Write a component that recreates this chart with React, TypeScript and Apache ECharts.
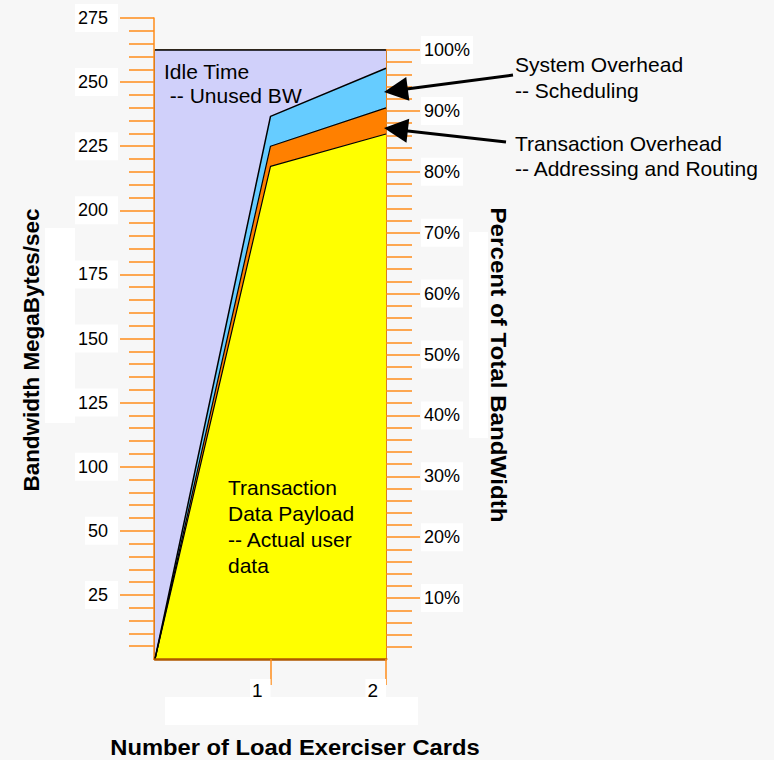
import React, { useEffect, useRef } from 'react';
import * as echarts from 'echarts';

// ---- data (percent of total bandwidth) ----
const categories = ['0', '1', '2'];
const payload = [0, 80.9, 86.2];
const transactionOverhead = [0, 3.3, 4.3];
const systemOverhead = [0, 4.9, 6.5];
const idleTime = [100, 10.9, 3.0];
// left axis tick labels (position 0..10; the original skips 75)
const leftTickLabels = ['', '25', '50', '100', '125', '150', '175', '200', '225', '250', '275'];
const rightTickValues = [10, 20, 30, 40, 50, 60, 70, 80, 90, 100];

const FONT = 'Liberation Sans, Arial, Helvetica, sans-serif';
const ORANGE = '#ff8c1a';
const BG = '#f7f7f7';

export default function App() {
  const ref = useRef<HTMLDivElement>(null);
  useEffect(() => {
    const chart = echarts.init(ref.current!, null, { renderer: 'svg' });
    const arrowHead = (tip: number[], tail: number[], len: number, half: number) => {
      const dx = tail[0] - tip[0];
      const dy = tail[1] - tip[1];
      const d = Math.sqrt(dx * dx + dy * dy);
      const ux = dx / d, uy = dy / d;
      const bx = tip[0] + ux * len, by = tip[1] + uy * len;
      return [tip, [bx - uy * half, by + ux * half], [bx + uy * half, by - ux * half]];
    };
    const sysTip = [384, 92], sysTail = [513, 75];
    const trTip = [384, 128], trTail = [506, 142];
    const option: any = {
      animation: false,
      backgroundColor: BG,
      textStyle: { fontFamily: FONT },
      grid: [
        { left: 155, right: 388, top: 50, bottom: 101, show: true, backgroundColor: '#d0d0fa', borderColor: '#3a2200', borderWidth: 1.5, containLabel: false },
        { left: 154, width: 1, top: 18, bottom: 101, containLabel: false },
      ],
      xAxis: [
        {
          gridIndex: 0,
          type: 'category',
          boundaryGap: false,
          data: categories,
          z: 5,
          axisLine: { show: true, lineStyle: { color: '#b05800', width: 2.5 } },
          axisTick: { show: true, length: 26, interval: (i: number) => i > 0, lineStyle: { color: ORANGE, width: 1.5 } },
          axisLabel: {
            interval: (i: number) => i > 0,
            margin: 20,
            align: 'right',
            fontSize: 19,
            color: '#000',
            fontFamily: FONT,
            backgroundColor: '#fff',
            padding: [2, 8, 1, 2],
          },
          splitLine: { show: false },
        },
        { gridIndex: 1, type: 'value', show: false, min: 0, max: 1 },
      ],
      yAxis: [
        {
          gridIndex: 0,
          type: 'value',
          position: 'right',
          min: 0,
          max: 100,
          interval: 10,
          axisLine: { show: true, lineStyle: { color: ORANGE, width: 1.5 } },
          axisTick: { show: true, length: 34, lineStyle: { color: ORANGE, width: 1.5 } },
          minorTick: { show: true, splitNumber: 5, length: 26, lineStyle: { color: ORANGE, width: 1.5 } },
          splitLine: { show: false },
          axisLabel: {
            margin: 35,
            fontSize: 18,
            color: '#000',
            fontFamily: FONT,
            backgroundColor: '#fff',
            padding: [5, 3, 5, 3],
            formatter: (v: number) => (rightTickValues.indexOf(v) >= 0 ? v + '%' : ''),
          },
        },
        {
          gridIndex: 1,
          type: 'value',
          position: 'left',
          min: 0,
          max: 10,
          interval: 1,
          axisLine: { show: true, lineStyle: { color: ORANGE, width: 1.5 } },
          axisTick: { show: true, length: 34, lineStyle: { color: ORANGE, width: 1.5 } },
          minorTick: { show: true, splitNumber: 5, length: 25, lineStyle: { color: ORANGE, width: 1.5 } },
          splitLine: { show: false },
          axisLabel: {
            margin: 36,
            fontSize: 18,
            color: '#000',
            fontFamily: FONT,
            backgroundColor: '#fff',
            padding: [5, 10, 5, 3],
            formatter: (v: number) => leftTickLabels[v] || '',
          },
        },
      ],
      series: [
        { name: 'Transaction Data Payload', type: 'line', stack: 'bw', data: payload, symbol: 'none', lineStyle: { color: '#000', width: 1.2 }, areaStyle: { color: '#ffff00', opacity: 1 } },
        { name: 'Transaction Overhead', type: 'line', stack: 'bw', data: transactionOverhead, symbol: 'none', lineStyle: { color: '#000', width: 1.2 }, areaStyle: { color: '#ff8000', opacity: 1 } },
        { name: 'System Overhead', type: 'line', stack: 'bw', data: systemOverhead, symbol: 'none', lineStyle: { color: '#000', width: 1.5 }, areaStyle: { color: '#66ccff', opacity: 1 } },
        { name: 'Idle Time', type: 'line', stack: 'bw', data: idleTime, symbol: 'none', lineStyle: { color: '#000', width: 1.5 }, areaStyle: { color: '#d0d0fa', opacity: 1 } },
      ],
      graphic: [
        // hide the zero ticks (and their empty label boxes) of both vertical axes
        { type: 'rect', shape: { x: 95, y: 653, width: 58, height: 13 }, style: { fill: BG }, z: 100 },
        { type: 'rect', shape: { x: 387.5, y: 653, width: 50, height: 13 }, style: { fill: BG }, z: 100 },
        { type: 'rect', shape: { x: 165, y: 697, width: 253, height: 28 }, style: { fill: '#fff' }, z: 1 },
        { type: 'rect', shape: { x: 45, y: 228, width: 30, height: 195 }, style: { fill: '#fff' }, z: 1 },
        { type: 'rect', shape: { x: 469, y: 232, width: 19, height: 206 }, style: { fill: '#fff' }, z: 1 },
        { type: 'text', x: 295, y: 747, scaleX: 1.08, z: 10, style: { text: 'Number of Load Exerciser Cards', fontFamily: FONT, fontSize: 22, fontWeight: 'bold', fill: '#000', align: 'center', verticalAlign: 'middle' } },
        { type: 'text', x: 32, y: 350, rotation: Math.PI / 2, scaleX: 1.02, z: 10, style: { text: 'Bandwidth MegaBytes/sec', fontFamily: FONT, fontSize: 22, fontWeight: 'bold', fill: '#000', align: 'center', verticalAlign: 'middle' } },
        { type: 'text', x: 499, y: 365, rotation: -Math.PI / 2, scaleX: 1.1, z: 10, style: { text: 'Percent of Total BandWidth', fontFamily: FONT, fontSize: 22, fontWeight: 'bold', fill: '#000', align: 'center', verticalAlign: 'middle' } },
        { type: 'text', x: 164, y: 59, z: 10, style: { text: 'Idle Time\n -- Unused BW', fontFamily: FONT, fontSize: 21, lineHeight: 24, fill: '#000', align: 'left', verticalAlign: 'top' } },
        { type: 'text', x: 228, y: 474, z: 10, style: { text: 'Transaction\nData Payload\n-- Actual user\ndata', fontFamily: FONT, fontSize: 21, lineHeight: 26, fill: '#000', align: 'left', verticalAlign: 'top' } },
        { type: 'text', x: 515, y: 51, z: 10, style: { text: 'System Overhead\n-- Scheduling', fontFamily: FONT, fontSize: 21, lineHeight: 26, fill: '#000', align: 'left', verticalAlign: 'top' } },
        { type: 'text', x: 515, y: 131, z: 10, style: { text: 'Transaction Overhead\n-- Addressing and Routing', fontFamily: FONT, fontSize: 21, lineHeight: 25, fill: '#000', align: 'left', verticalAlign: 'top' } },
        { type: 'line', z: 10, shape: { x1: sysTail[0], y1: sysTail[1], x2: sysTip[0] + 15, y2: sysTip[1] - 2 }, style: { stroke: '#000', lineWidth: 3 } },
        { type: 'polygon', z: 10, shape: { points: arrowHead(sysTip, sysTail, 24, 12) }, style: { fill: '#000' } },
        { type: 'line', z: 10, shape: { x1: trTail[0], y1: trTail[1], x2: trTip[0] + 15, y2: trTip[1] + 2 }, style: { stroke: '#000', lineWidth: 3 } },
        { type: 'polygon', z: 10, shape: { points: arrowHead(trTip, trTail, 24, 12) }, style: { fill: '#000' } },
      ],
    };
    chart.setOption(option);
    return () => chart.dispose();
  }, []);
  return <div ref={ref} style={{ position: 'absolute', left: 0, top: 0, width: 774, height: 760 }} />;
}
